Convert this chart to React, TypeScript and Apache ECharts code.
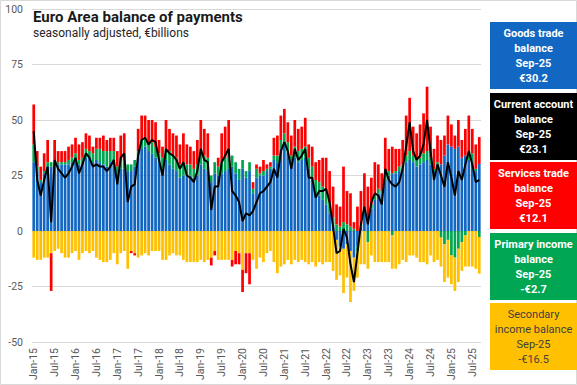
import React, { useEffect, useRef } from "react";
import * as echarts from "echarts";

const MONTHS = ["Jan", "Feb", "Mar", "Apr", "May", "Jun", "Jul", "Aug", "Sep", "Oct", "Nov", "Dec"];
const YEARS = ["15", "16", "17", "18", "19", "20", "21", "22", "23", "24", "25"];
const categories: string[] = [];
YEARS.forEach((y, yi) => {
  MONTHS.forEach((m, mi) => {
    if (yi === YEARS.length - 1 && mi > 8) return;
    categories.push(`${m}-${y}`);
  });
});

const goods = [
  31, 27, 22, 26, 29, 29, 31, 30, 30, 30, 30, 31,
  31, 30, 31, 33, 33, 31, 32, 31, 30, 29, 31, 31,
  26, 28, 28, 27, 27, 29, 33, 37, 38, 36, 35, 33,
  31, 28, 32, 30, 28, 27, 24, 25, 25, 25, 24, 25,
  30, 28, 27, 22, 26, 25, 26, 27, 28, 29, 26, 23,
  28, 24, 27, 17, 24, 25, 25, 27, 28, 32, 31, 37,
  39, 35, 29, 33, 31, 32, 33, 28, 23, 17, 16, 14,
  12, 8, 2, -4, -7, -8, -6, -9, -12, -7, 2, 8,
  6, 10, 14, 17, 17, 23, 25, 26, 26, 27, 28, 31,
  32, 31, 29, 30, 31, 32, 30, 27, 30, 30, 34, 39,
  38, 37, 38, 33, 34, 32, 31, 27, 30.2,
];
const primaryIncome = [
  8, 2, 1, 1, 2, 2, 1, 1, 1, 1, 2, 2,
  4, 2, 2, 4, 3, 4, 5, 6, 6, 7, 5, 5,
  3, 4, 4, 3, 3, 3, 3, 4, 4, 4, 5, 5,
  4, 5, 5, 6, 6, 6, 6, 6, 5, 5, 4, 5,
  6, 6, 6, 3, 5, 4, 5, 6, 7, 5, 5, 5,
  4, 3, 4, 2, 4, 1, 2, 1, 1, 2, 3, 4,
  5, 5, 5, 5, 5, 5, 5, 5, 6, 6, 6, 6,
  6, 5, 4, 3, 2, 4, 3, 2, 1, -2, 1, 2,
  -5, 2, 3, 2, 1, 3, 2, -2, 1, 2, 2, 3,
  4, 3, 3, 3, 4, 4, 3, 1, 1, -3, -6, -4,
  -11, -12, -8, -5, -2, 4, 4, 1, -2.7,
];
const services = [
  18, 7, 6, 8, 10, -17, 9, 5, 5, 5, 6, 6,
  7, 7, 7, 7, 7, 3, 5, 5, 7, 5, 6, 6,
  7, 11, 12, 0, -1, -1, 10, 11, 10, 10, 10, 11,
  6, 5, 13, 10, 10, 10, 9, 13, 9, 8, 8, 11,
  14, 12, 11, -3.5, -2, 4, 13, 14, 15, -3, -6, -5,
  -10, -9, -14, 3, 2, 3, 5, 2, 2, 8, 9, 11,
  11, 9, 9, 12, 10, 10, 13, 6, 9, 8, 10, 13,
  15, 14, 14, 9, 9, 25, 15, 15, 3, 11, 15, 16,
  14, 12, 14, 11, 8, 16, 10, 12, 10, 8, 11, 18,
  24, 13, 12, 15, 18, 29, 14, 9, 12, 11, 9, 13,
  10, 6, 12, 8, 12, 16, 11, 11, 12.1,
];
const secondaryIncome = [
  -12, -13, -13, -12, -12, -10, -9, -8, -10, -12, -12, -10,
  -9, -13, -10, -9, -10, -9, -12, -13, -14, -14, -13, -10,
  -15, -10, -9, -17, -9, -10, -12, -11, -10, -11, -9, -9,
  -9, -13, -13, -11, -10, -11, -11, -13, -14, -14, -14, -14,
  -13, -14, -13, -12, -9, -13, -13, -13, -13, -13, -9, -10,
  -17.5, -10, -10, -13, -17, -12, -14, -10, -9, -14, -19, -16,
  -15, -13, -15, -13, -14, -13, -14, -15, -14, -16, -14, -15,
  -14, -14, -18, -18, -13, -20, -15, -23, -15, -12, -15, -15,
  -12, -11, -14, -14, -14, -14, -14, -15, -17, -15, -13, -14,
  -11, -11, -12, -14, -14, -15, -11, -14, -13, -13, -17, -17,
  -13, -15, -15, -13, -14, -16, -16, -17, -16.5,
];
const currentAccount = [
  45, 23, 16, 23, 29, 4, 32, 28, 26, 24, 26, 29,
  33, 26, 30, 35, 33, 29, 30, 29, 29, 27, 29, 32,
  21, 33, 35, 13, 20, 21, 34, 41, 42, 39, 41, 40,
  32, 25, 37, 35, 34, 32, 28, 31, 25, 24, 22, 27,
  37, 32, 31, 9.5, 20, 20, 31, 34, 37, 18, 16, 13,
  4.5, 8, 7, 9, 13, 17, 18, 20, 22, 28, 24, 36,
  40, 36, 28, 37, 32, 34, 37, 24, 24, 15, 18, 18,
  19, 13, 2, -10, -9, 1, -3, -15, -23, -10, 3, 11,
  3, 13, 17, 16, 12, 28, 23, 21, 20, 22, 28, 38,
  49, 36, 32, 34, 39, 50, 36, 23, 30, 25, 20, 31,
  24, 16, 27, 23, 30, 36, 30, 22, 23.1,
];

const Y_TICKS = { min: -50, max: 100, interval: 25 };

const BLUE = "#1167C2";
const RED = "#FF0000";
const GREEN = "#00A651";
const YELLOW = "#FFC000";

const boxes = [
  { fill: BLUE, text: "Goods trade\nbalance\nSep-25\n€30.2", color: "#ffffff", bold: true, y: 22 },
  { fill: "#000000", text: "Current account\nbalance\nSep-25\n€23.1", color: "#ffffff", bold: true, y: 93 },
  { fill: RED, text: "Services trade\nbalance\nSep-25\n€12.1", color: "#ffffff", bold: true, y: 162 },
  { fill: GREEN, text: "Primary income\nbalance\nSep-25\n-€2.7", color: "#ffffff", bold: true, y: 233 },
  { fill: YELLOW, text: "Secondary\nincome balance\nSep-25\n-€16.5", color: "#404040", bold: false, y: 303 },
];

export default function App() {
  const ref = useRef<HTMLDivElement>(null);
  useEffect(() => {
    if (!ref.current) return;
    const chart = echarts.init(ref.current, undefined, { renderer: "svg" });
    const FONT = "Roboto, 'Noto Sans', sans-serif";
    const graphics: any[] = [
      {
        type: "rect",
        shape: { x: 0.5, y: 0.5, width: 576, height: 384 },
        style: { fill: "none", stroke: "#d9d9d9", lineWidth: 1 },
        silent: true,
      },
      {
        type: "text",
        x: 33,
        y: 17,
        style: { text: "Euro Area balance of payments", fill: "#1a1a1a", fontSize: 15, fontWeight: "bold", fontFamily: FONT, verticalAlign: "middle" },
      },
      {
        type: "text",
        x: 33,
        y: 33,
        style: { text: "seasonally adjusted, €billions", fill: "#262626", fontSize: 12, fontFamily: FONT, verticalAlign: "middle" },
      },
    ];
    boxes.forEach((b) => {
      graphics.push({
        type: "rect",
        shape: { x: 490, y: b.y, width: 87, height: 67 },
        style: { fill: b.fill },
        z: 10,
      });
      graphics.push({
        type: "text",
        x: 533.5,
        y: b.y + 34,
        z: 11,
        style: {
          text: b.text,
          fill: b.color,
          fontSize: 11,
          fontWeight: b.bold ? "bold" : "normal",
          fontFamily: FONT,
          align: "center",
          verticalAlign: "middle",
          lineHeight: 15,
        },
      });
    });

    chart.setOption({
      animation: false,
      backgroundColor: "#ffffff",
      grid: { left: 32, right: 96, top: 9, bottom: 43, containLabel: false },
      xAxis: {
        type: "category",
        data: categories,
        axisLine: { show: false },
        axisTick: { show: false },
        axisLabel: {
          interval: 5,
          rotate: 90,
          fontSize: 10.5,
          color: "#595959",
          fontFamily: FONT,
          margin: 6,
        },
      },
      yAxis: {
        type: "value",
        min: Y_TICKS.min,
        max: Y_TICKS.max,
        interval: Y_TICKS.interval,
        axisLabel: { fontSize: 10.5, color: "#595959", fontFamily: FONT, margin: 9 },
        splitLine: { lineStyle: { color: "#d9d9d9", width: 1 } },
        axisLine: { show: false },
        axisTick: { show: false },
      },
      series: [
        { name: "Goods trade balance", type: "bar", stack: "total", data: goods, itemStyle: { color: BLUE }, barCategoryGap: "22%" },
        { name: "Primary income balance", type: "bar", stack: "total", data: primaryIncome, itemStyle: { color: GREEN } },
        { name: "Secondary income balance", type: "bar", stack: "total", data: secondaryIncome, itemStyle: { color: YELLOW } },
        { name: "Services trade balance", type: "bar", stack: "total", data: services, itemStyle: { color: RED } },
        {
          name: "Current account balance",
          type: "line",
          data: currentAccount,
          symbol: "none",
          lineStyle: { color: "#000000", width: 2 },
          itemStyle: { color: "#000000" },
          z: 5,
        },
      ],
      graphic: graphics,
    });
    return () => chart.dispose();
  }, []);
  return (
    <div style={{ position: "fixed", left: 0, top: 0, width: 577, height: 385, background: "#fff" }}>
      <div ref={ref} style={{ width: 577, height: 385 }} />
    </div>
  );
}
